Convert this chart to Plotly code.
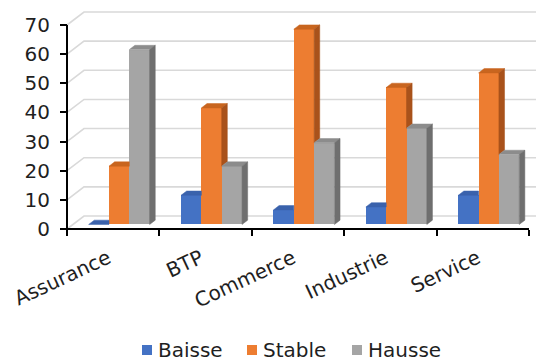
import plotly.graph_objects as go

# ---------------- data ----------------
categories = ["Assurance", "BTP", "Commerce", "Industrie", "Service"]
series_names = ["Baisse", "Stable", "Hausse"]
baisse = [0, 10, 5, 6, 10]
stable = [20, 40, 67, 47, 52]
hausse = [60, 20, 28, 33, 24]
y_ticks = [0, 10, 20, 30, 40, 50, 60, 70]

# ---------------- styles / geometry ----------------
front_colors = ["#4472C4", "#ED7D31", "#A5A5A5"]
top_colors = ["#3A62AC", "#C8651F", "#8C8C8C"]
side_colors = ["#2F5597", "#A9521B", "#6F6F6F"]
FONT = "DejaVu Sans, Verdana, sans-serif"
TXT = "#1f1f1f"

W, H = 536, 362
PL, PR, PT, PB = 60, 536, 4, 232      # plot area in pixels
X0PX, XPX = 67, 92.4                   # pixel of x=0 and px per category
Y0PX, YPX = 229, 204 / 70              # pixel of y=0 and px per unit

xmin = (PL - X0PX) / XPX
xmax = (PR - X0PX) / XPX
ymin = (Y0PX - PB) / YPX
ymax = (Y0PX - PT) / YPX

DX = 17 / XPX       # depth of the 3D box in x units
DY = 13 / YPX       # depth of the 3D box in y units
F0, F1 = 0.35, 0.68 # bars occupy this depth fraction
BW = 0.22           # bar width in category units

# legend placement (pixels)
LEG_SYM_X = [142, 247, 352]
LEG_TXT_X = [157, 262, 367]
LEG_Y = 350

def px_x(p):
    return (p - PL) / (PR - PL)

def px_y(p):
    return (PB - p) / (PB - PT)

series = [baisse, stable, hausse]
n = len(categories)
fig = go.Figure()

shapes = []
annotations = []
# back wall gridlines + left wall diagonals
for v in y_ticks:
    shapes.append(dict(
        type="path", xref="x", yref="y", layer="below",
        path=f"M 0,{v} L {DX},{v + DY} L {xmax},{v + DY}",
        line=dict(color="#D9D9D9", width=1.6)))

ddx = (F1 - F0) * DX
ddy = (F1 - F0) * DY
base = F0 * DY

def poly(pts):
    return "M " + " L ".join(f"{x},{y}" for x, y in pts) + " Z"

for k, vals in enumerate(series):
    xs = [i + 0.5 + (k - 1) * BW + F0 * DX for i in range(n)]
    fig.add_trace(go.Bar(
        x=xs, y=vals, base=[base] * n, width=BW, name=series_names[k],
        marker=dict(color=front_colors[k], line=dict(width=0)),
        showlegend=False, hoverinfo="skip"))

for i in range(n):
    for k in range(3):
        v = series[k][i]
        xc = i + 0.5 + (k - 1) * BW + F0 * DX
        x0, x1 = xc - BW / 2, xc + BW / 2
        h = base + v
        nxt = series[k + 1][i] if k < 2 else None
        # top face
        if nxt is not None and nxt > v:
            top = [(x0, h), (x1, h), (x1, h + ddy), (x0 + ddx, h + ddy)]
        else:
            top = [(x0, h), (x1, h), (x1 + ddx, h + ddy), (x0 + ddx, h + ddy)]
        shapes.append(dict(type="path", xref="x", yref="y", layer="above",
                           path=poly(top), fillcolor=top_colors[k],
                           line=dict(width=0.5, color=top_colors[k])))
        # side face
        if nxt is None:
            lo = base
        elif v > nxt:
            lo = base + nxt
        else:
            lo = None
        if lo is not None:
            side = [(x1, lo), (x1 + ddx, lo + ddy), (x1 + ddx, h + ddy), (x1, h)]
            shapes.append(dict(type="path", xref="x", yref="y", layer="above",
                               path=poly(side), fillcolor=side_colors[k],
                               line=dict(width=0.5, color=side_colors[k])))

# axis lines
shapes.append(dict(type="line", xref="x", yref="y", layer="above",
                   x0=0, y0=0, x1=0, y1=y_ticks[-1],
                   line=dict(color="#000000", width=2)))
shapes.append(dict(type="line", xref="x", yref="y", layer="above",
                   x0=0, y0=0, x1=n, y1=0,
                   line=dict(color="#000000", width=2)))

# legend (symbols + labels)
for k, name in enumerate(series_names):
    shapes.append(dict(type="rect", xref="paper", yref="paper",
                       x0=px_x(LEG_SYM_X[k]), x1=px_x(LEG_SYM_X[k] + 10),
                       y0=px_y(LEG_Y + 5), y1=px_y(LEG_Y - 5),
                       fillcolor=front_colors[k], line=dict(width=0)))
    annotations.append(dict(xref="paper", yref="paper",
                            x=px_x(LEG_TXT_X[k]), y=px_y(LEG_Y),
                            xanchor="left", yanchor="middle",
                            text=name, showarrow=False, borderpad=0,
                            font=dict(size=20, family=FONT, color=TXT)))

fig.update_layout(
    width=W, height=H,
    margin=dict(l=PL, r=W - PR, t=PT, b=H - PB, pad=0, autoexpand=False),
    paper_bgcolor="white", plot_bgcolor="white",
    barmode="overlay", bargap=0,
    font=dict(family=FONT, size=20, color=TXT),
    shapes=shapes, annotations=annotations,
    showlegend=False,
    xaxis=dict(range=[xmin, xmax], tickmode="array",
               tickvals=[i + 0.5 for i in range(n)], ticktext=categories,
               ticks="", tickangle=-25, showgrid=False, zeroline=False,
               showline=False, anchor="free",
               position=(PB - Y0PX) / (PB - PT),
               tickfont=dict(size=20, family=FONT, color=TXT),
               ticklabelstandoff=13, ticklabelshift=-5,
               minor=dict(tickmode="array", tickvals=list(range(n + 1)),
                          ticks="outside", ticklen=6, tickwidth=1.5,
                          tickcolor="#000000", showgrid=False)),
    yaxis=dict(range=[ymin, ymax], tickmode="array", tickvals=y_ticks,
               ticks="outside", ticklen=7, tickwidth=1.5, tickcolor="#000000",
               showgrid=False, zeroline=False, showline=False,
               anchor="free", position=(X0PX - PL) / (PR - PL),
               tickfont=dict(size=20, family=FONT, color=TXT),
               ticklabelstandoff=6),
)

fig.write_html("out.html")
